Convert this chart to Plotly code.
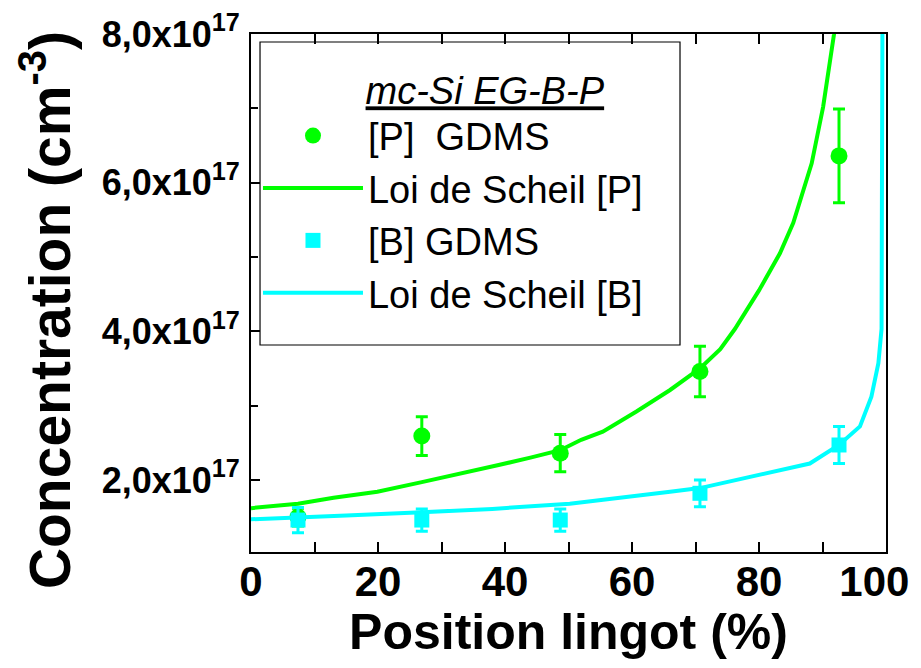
import plotly.graph_objects as go

# ---- data ----
pos_gdms = [7.4, 26.9, 48.7, 70.7, 92.6]
p_gdms = [1.50e17, 2.59e17, 2.36e17, 3.46e17, 6.36e17]
p_err = [0.12e17, 0.26e17, 0.25e17, 0.34e17, 0.63e17]
b_gdms = [1.46e17, 1.46e17, 1.46e17, 1.82e17, 2.47e17]
b_err = [0.17e17, 0.15e17, 0.15e17, 0.18e17, 0.25e17]

scheil_p_x = [0, 7.4, 13, 19.9, 26.9, 33, 39, 44, 48.7, 52, 55.4, 60.7, 66, 70.7,
              73.9, 76.2, 80, 83.3, 85.4, 88.3, 90.1, 91.8, 92.2]
scheil_p_y = [1.62e17, 1.68e17, 1.76e17, 1.84e17, 1.97e17, 2.08e17, 2.20e17, 2.30e17,
              2.40e17, 2.54e17, 2.65e17, 2.92e17, 3.21e17, 3.50e17, 3.76e17, 4.03e17,
              4.55e17, 5.05e17, 5.46e17, 6.26e17, 7.02e17, 7.99e17, 8.3e17]

scheil_b_x = [0, 7.4, 15, 26, 38, 50.2, 55.5, 60.7, 66, 70.7, 76.5, 81.7, 88, 92.6,
              95.9, 97.7, 98.8, 99.3, 99.4, 99.45]
scheil_b_y = [1.47e17, 1.50e17, 1.52e17, 1.56e17, 1.61e17, 1.68e17, 1.73e17, 1.78e17,
              1.84e17, 1.89e17, 2.00e17, 2.11e17, 2.22e17, 2.47e17, 2.72e17, 3.12e17,
              3.57e17, 4.03e17, 5.5e17, 8.5e17]

x_tick_vals = [0, 20, 40, 60, 80, 100]
x_tick_text = ["0", "20", "40", "60", "80", "100\u00a0\u00a0"]
y_tick_vals = [2e17, 4e17, 6e17, 8e17]
y_tick_text = ["2,0x10<sup>17</sup>", "4,0x10<sup>17</sup>",
               "6,0x10<sup>17</sup>", "8,0x10<sup>17</sup>"]

GREEN = "#00ff00"
CYAN = "#00ffff"
FONT = "Liberation Sans, Arial, sans-serif"

fig = go.Figure()
fig.add_trace(go.Scatter(
    x=pos_gdms, y=p_gdms, mode="markers", name="[P]  GDMS",
    marker=dict(symbol="circle", size=17, color=GREEN),
    error_y=dict(type="data", array=p_err, color=GREEN, thickness=3, width=6)))
fig.add_trace(go.Scatter(
    x=scheil_p_x, y=scheil_p_y, mode="lines", name="Loi de Scheil [P]",
    line=dict(color=GREEN, width=4)))
fig.add_trace(go.Scatter(
    x=pos_gdms, y=b_gdms, mode="markers", name="[B] GDMS",
    marker=dict(symbol="square", size=15, color=CYAN),
    error_y=dict(type="data", array=b_err, color=CYAN, thickness=3, width=6)))
fig.add_trace(go.Scatter(
    x=scheil_b_x, y=scheil_b_y, mode="lines", name="Loi de Scheil [B]",
    line=dict(color=CYAN, width=4)))

fig.update_layout(
    width=913, height=652,
    margin=dict(l=243, r=35, t=26, b=108, autoexpand=False),
    paper_bgcolor="white", plot_bgcolor="white",
    font=dict(family=FONT, color="black"),
    showlegend=True,
    legend=dict(
        x=0.011, y=0.9595, xanchor="left", yanchor="top",
        bgcolor="rgba(0,0,0,0)", borderwidth=0,
        font=dict(size=38, family=FONT, color="black"),
        itemwidth=100, tracegroupgap=0,
        title=dict(text="\u00a0" * 10 + "<u><i>mc-Si EG-B-P</i></u>",
                   side="top", font=dict(size=38, family=FONT)),
    ),
    shapes=[dict(type="rect", xref="paper", yref="paper",
                 x0=0.0142, x1=0.6756, y0=0.3996, y1=0.9846,
                 line=dict(color="black", width=1.2), fillcolor="rgba(0,0,0,0)")],
    xaxis=dict(
        range=[0, 100], tickvals=x_tick_vals, ticktext=x_tick_text,
        ticks="inside", ticklen=10, tickwidth=2,
        tickcolor="black", showline=True, linecolor="black", linewidth=2,
        mirror="ticks", showgrid=False, zeroline=False,
        tickfont=dict(size=42, family=FONT, weight="bold"),
        ticklabelstandoff=-8, ticklabeloverflow="allow",
        minor=dict(dtick=10, ticks="inside", ticklen=10, tickwidth=2, tickcolor="black"),
        title=dict(text="<b>Position lingot (%)</b>", font=dict(size=50, family=FONT),
                   standoff=18),
    ),
    yaxis=dict(
        range=[1.03e17, 8e17], tickvals=y_tick_vals, ticktext=y_tick_text,
        ticks="inside", ticklen=9, tickwidth=2, tickcolor="black",
        showline=True, linecolor="black", linewidth=2, mirror=True,
        showgrid=False, zeroline=False,
        tickfont=dict(size=36, family=FONT, weight="bold"),
        ticklabelstandoff=2, ticklabeloverflow="allow",
        minor=dict(dtick=1e17, tick0=0, ticks="inside", ticklen=7, tickwidth=2,
                   tickcolor="black"),
    ),
    yaxis2=dict(
        overlaying="y", side="right", range=[0, 10], dtick=1,
        ticks="inside", ticklen=9, tickwidth=2, tickcolor="black",
        showticklabels=False, showgrid=False, zeroline=False, showline=False,
    ),
    annotations=[dict(
        text="<b>Concentration (cm<sup>-3</sup>)</b>", textangle=-90,
        xref="paper", yref="paper", x=-0.3228, y=0.467,
        xanchor="center", yanchor="middle", showarrow=False,
        font=dict(size=57, family=FONT, color="black"))],
)

fig.write_html("out.html")
